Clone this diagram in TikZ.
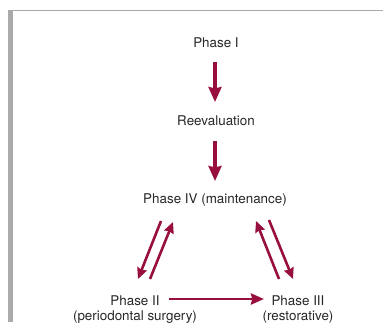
\documentclass[tikz,border=0pt]{standalone}
\usepackage{fontspec}
\setmainfont{TeX Gyre Heros}
\usetikzlibrary{arrows.meta}
\definecolor{arr}{RGB}{152,14,62}
\definecolor{frame}{RGB}{170,170,170}
\definecolor{txt}{RGB}{40,40,40}
\begin{document}
\begin{tikzpicture}[x=1pt,y=-1pt,
  lbl/.style={inner sep=0pt,text=txt,font=\fontsize{13.4}{15.5}\selectfont,align=center},
  bigarr/.style={draw=arr,line width=3.2pt,-{Stealth[inset=1.5pt,length=15pt,width=13pt]}},
  smarr/.style={draw=arr,line width=2.6pt,-{Stealth[inset=1.2pt,length=11pt,width=10pt]}},
  harr/.style={draw=arr,line width=2.8pt,-{Stealth[inset=1.2pt,length=13pt,width=11pt]}}]
\useasboundingbox (0,0) rectangle (383,322);
\fill[white] (0,0) rectangle (383,322);
% frame
\fill[frame] (8,10) rectangle (13,322);
\draw[frame,line width=1pt] (8,10.5) -- (383,10.5);
% nodes
\node[lbl] (p1) at (216,43) {Phase I};
\node[lbl] (re) at (216,121) {Reevaluation};
\node[lbl] (p4) at (215,200) {Phase IV (maintenance)};
\node[lbl] (p2) at (135,300.5) {Phase II};
\node[lbl] (p2b) at (135,317.5) {(periodontal surgery)};
\node[lbl] (p3) at (298,300.5) {Phase III};
\node[lbl] (p3b) at (298,317.5) {(restorative)};
% connectors
\coordinate (a1s) at (215,62);  \coordinate (a1e) at (215,102);
\coordinate (a2s) at (215,141); \coordinate (a2e) at (215,181);
\draw[bigarr] (a1s) -- (a1e);
\draw[bigarr] (a2s) -- (a2e);
\coordinate (l1s) at (161,221); \coordinate (l1e) at (138,279);
\coordinate (l2s) at (150,279); \coordinate (l2e) at (173,222);
\draw[smarr] (l1s) -- (l1e);
\draw[smarr] (l2s) -- (l2e);
\coordinate (r1s) at (279,279); \coordinate (r1e) at (256,221);
\coordinate (r2s) at (269,220); \coordinate (r2e) at (293,279);
\draw[smarr] (r1s) -- (r1e);
\draw[smarr] (r2s) -- (r2e);
\coordinate (hs) at (169,299); \coordinate (he) at (264,299);
\draw[harr] (hs) -- (he);
\end{tikzpicture}
\end{document}
